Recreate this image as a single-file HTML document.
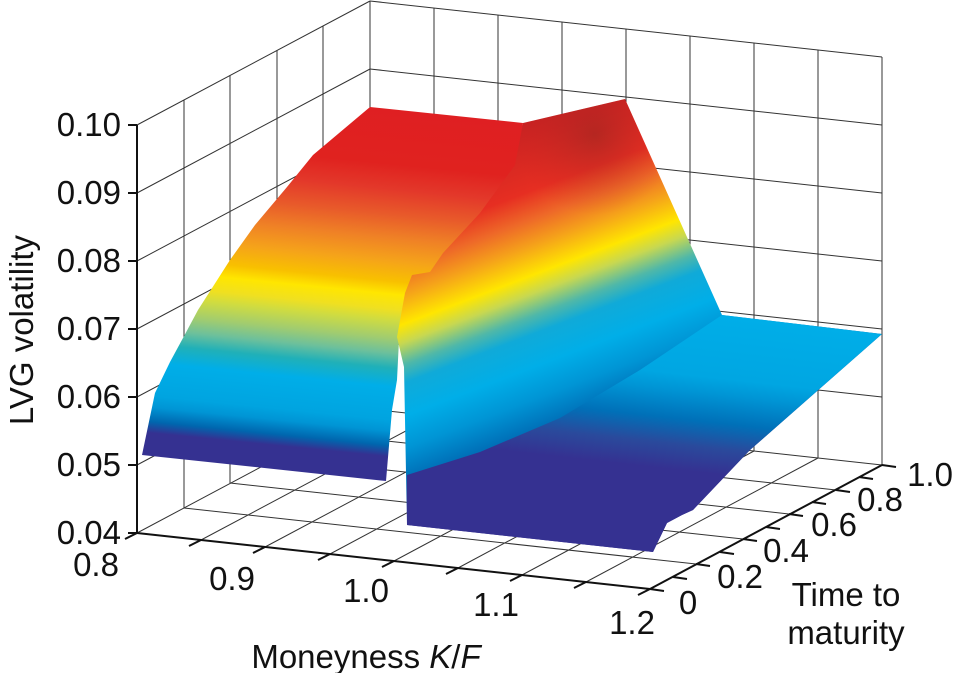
<!DOCTYPE html>
<html><head><meta charset="utf-8"><style>
html,body{margin:0;padding:0;background:#fff;}
svg{display:block;}
text{font-family:"Liberation Sans",sans-serif;fill:#111;}
</style></head><body>
<svg width="955" height="673" viewBox="0 0 955 673" xmlns="http://www.w3.org/2000/svg">
<defs>
<linearGradient id="gL" gradientUnits="userSpaceOnUse" x1="0" y1="70" x2="0" y2="440" gradientTransform="skewY(5.7)">
<stop offset="0" stop-color="#df1f22"/>
<stop offset="0.149" stop-color="#e0221f"/>
<stop offset="0.216" stop-color="#e3382a"/>
<stop offset="0.284" stop-color="#e85a2a"/>
<stop offset="0.346" stop-color="#ef8026"/>
<stop offset="0.41" stop-color="#f5a31a"/>
<stop offset="0.465" stop-color="#f8c000"/>
<stop offset="0.50" stop-color="#ffe600"/>
<stop offset="0.54" stop-color="#f0e020"/>
<stop offset="0.57" stop-color="#d0dc40"/>
<stop offset="0.62" stop-color="#a0cc70"/>
<stop offset="0.66" stop-color="#6cc09c"/>
<stop offset="0.70" stop-color="#20b0b8"/>
<stop offset="0.75" stop-color="#00aee8"/>
<stop offset="0.84" stop-color="#00a4e0"/>
<stop offset="0.87" stop-color="#0095d5"/>
<stop offset="0.91" stop-color="#0066ae"/>
<stop offset="0.94" stop-color="#353191"/>
<stop offset="1" stop-color="#353191"/>
</linearGradient>
<linearGradient id="gR" gradientUnits="userSpaceOnUse" x1="0" y1="170" x2="0" y2="540" gradientTransform="translate(0,152) skewY(-20.8)">
<stop offset="0" stop-color="#c82222"/>
<stop offset="0.19" stop-color="#e62e22"/>
<stop offset="0.27" stop-color="#ee6a28"/>
<stop offset="0.34" stop-color="#f5a21a"/>
<stop offset="0.42" stop-color="#ffe600"/>
<stop offset="0.47" stop-color="#c8d850"/>
<stop offset="0.53" stop-color="#50b8a8"/>
<stop offset="0.58" stop-color="#10aad8"/>
<stop offset="0.67" stop-color="#00aee8"/>
<stop offset="0.757" stop-color="#0095d5"/>
<stop offset="0.84" stop-color="#0070b8"/>
<stop offset="0.92" stop-color="#2a4a9c"/>
<stop offset="1" stop-color="#353191"/>
</linearGradient>
<linearGradient id="gF" gradientUnits="userSpaceOnUse" x1="0" y1="235" x2="0" y2="395" gradientTransform="skewY(6.3)">
<stop offset="0" stop-color="#00aee8"/>
<stop offset="0.4" stop-color="#00a6e2"/>
<stop offset="0.5" stop-color="#0095d5"/>
<stop offset="0.68" stop-color="#0070b8"/>
<stop offset="0.84" stop-color="#2a4a9c"/>
<stop offset="1" stop-color="#353191"/>
</linearGradient>
<radialGradient id="gD" gradientUnits="userSpaceOnUse" cx="595" cy="135" r="80">
<stop offset="0" stop-color="#8a2420" stop-opacity="0.45"/>
<stop offset="1" stop-color="#c02222" stop-opacity="0"/>
</radialGradient>
</defs>

<g stroke="#333" stroke-width="1" fill="none">
<path d="M370,409V1 M434,416V8 M498,423V15 M562,430V22 M626,437V29 M690,444V36 M754,451V43 M818,458V50 M882,465V57"/>
<path d="M370,409L882,465 M370,341L882,397 M370,273L882,329 M370,205L882,261 M370,137L882,193 M370,69L882,125 M370,1L882,57"/>
<path d="M184,508V100 M230,483V75 M277,458V50 M323,434V26 M370,409V1"/>
<path d="M137,533L370,409 M137,465L370,341 M137,397L370,273 M137,329L370,205 M137,261L370,137 M137,193L370,69 M137,125L370,1"/>
<path d="M201,540L434,416 M265,547L498,423 M330,554L562,430 M394,561L626,437 M458,568L690,444 M522,575L754,451 M586,582L818,458 M650,589L882,465"/>
<path d="M184,508L696,564 M230,483L743,539 M277,458L789,514 M323,434L836,490"/>
</g>

<polygon fill="url(#gL)" points="142,455 155,393 170,362 183,338 198,310 230,260 255,225 287,187 313,155 370,107 523,123 515,190 495,225 440,275 410,300 399,340 397,380 392,410 386,481"/>

<polygon fill="url(#gR)" points="407,525 404,367 397,337 405,293 412,275 430,272 443,253 480,213 515,165 523,123 625,99 722,315 882,334 750,450 693,510 682,515 667,523 653,552"/>
<polygon fill="url(#gD)" points="523,123 625,99 675,215 540,215 515,165"/>
<polygon fill="url(#gF)" points="722,315 882,334 750,450 693,510 682,515 667,523 653,552 407,525 407,475 480,452 560,418 640,370"/>

<g stroke="#111" stroke-width="2" fill="none">
<path d="M137,533V125"/>
<path d="M137,533L650,589"/>
<path d="M650,589L882,465"/>
<path d="M137,533h-9 M137,465h-9 M137,397h-9 M137,329h-9 M137,261h-9 M137,193h-9 M137,125h-9"/>
<path d="M137,533l-12,6 M201,540l-12,6 M265,547l-12,6 M330,554l-12,6 M394,561l-12,6 M458,568l-12,6 M522,575l-12,6 M586,582l-12,6 M650,589l-12,6"/>
<path d="M650,589l14,2 M673,577l14,2 M696,564l14,2 M720,552l14,2 M743,539l14,2 M766,527l14,2 M789,514l14,2 M812,502l14,2 M836,490l14,2 M859,477l14,2 M882,465l14,2"/>
</g>

<g font-size="33">
<text x="121" y="136" text-anchor="end">0.10</text>
<text x="121" y="204" text-anchor="end">0.09</text>
<text x="121" y="272" text-anchor="end">0.08</text>
<text x="121" y="340" text-anchor="end">0.07</text>
<text x="121" y="408" text-anchor="end">0.06</text>
<text x="121" y="476" text-anchor="end">0.05</text>
<text x="121" y="544" text-anchor="end">0.04</text>
<text x="96" y="576" text-anchor="middle">0.8</text>
<text x="232" y="590" text-anchor="middle">0.9</text>
<text x="366" y="602" text-anchor="middle">1.0</text>
<text x="496" y="616" text-anchor="middle">1.1</text>
<text x="632" y="634" text-anchor="middle">1.2</text>
<text x="688" y="614" text-anchor="middle">0</text>
<text x="740" y="588" text-anchor="middle">0.2</text>
<text x="786" y="562" text-anchor="middle">0.4</text>
<text x="834" y="536" text-anchor="middle">0.6</text>
<text x="880" y="511" text-anchor="middle">0.8</text>
<text x="930" y="486" text-anchor="middle">1.0</text>
<text x="366" y="668" text-anchor="middle">Moneyness <tspan font-style="italic">K</tspan>/<tspan font-style="italic">F</tspan></text>
<text x="846" y="606" text-anchor="middle">Time to</text>
<text x="846" y="644" text-anchor="middle">maturity</text>
<text transform="translate(33,330) rotate(-90)" text-anchor="middle">LVG volatility</text>
</g>
</svg>
</body></html>
